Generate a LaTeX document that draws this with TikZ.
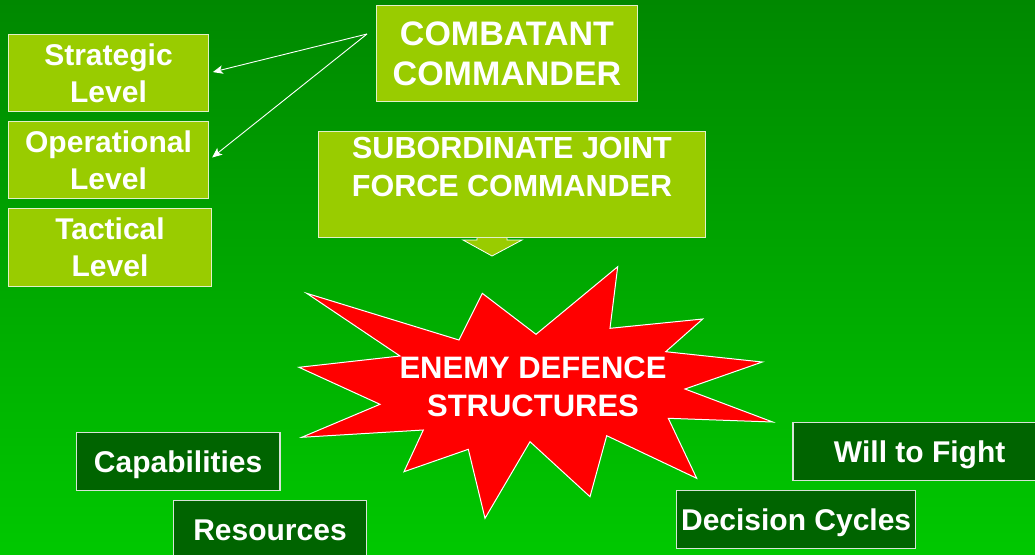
\documentclass[tikz,border=0pt]{standalone}
\usepackage{fontspec}
\setmainfont{Liberation Sans}
\usetikzlibrary{arrows.meta}
\definecolor{bgtop}{RGB}{0,136,0}
\definecolor{bgbottom}{RGB}{0,200,0}
\definecolor{lime}{RGB}{153,204,0}
\definecolor{forest}{RGB}{0,100,0}
\definecolor{edgegrey}{RGB}{215,228,215}
\definecolor{limeedge}{RGB}{225,240,200}
\begin{document}
\begin{tikzpicture}[x=1pt,y=-1pt,
  lightbox/.style={draw=limeedge, line width=1pt, fill=lime, text=white,
    align=center, inner sep=0pt, anchor=north west},
  levelbox/.style={lightbox, minimum width=200pt, minimum height=77pt,
    font=\fontsize{30}{37}\selectfont\bfseries},
  darkbox/.style={draw=edgegrey, line width=1.3pt, fill=forest, text=white,
    inner sep=0pt, anchor=north west, minimum height=58pt,
    text height=22pt, text depth=0pt, font=\fontsize{30}{36}\selectfont\bfseries},
  pointer/.style={draw=white, line width=0.9pt,
    -{Stealth[length=10pt,width=8.5pt,inset=2.5pt]}, shorten >=4pt}
]
\useasboundingbox (0,0) rectangle (1035,554);
\clip (0,0) rectangle (1035,554);

% background
\shade[top color=bgtop, bottom color=bgbottom] (0,0) rectangle (1035,554);

% command levels
\node[levelbox] (strat) at (8,34) {Strategic\\Level};
\node[levelbox] (oper) at (8,121) {Operational\\Level};
\node[levelbox, minimum width=203pt, minimum height=78pt] (tact) at (8,208) {Tactical\\Level};

% commanders
\node[lightbox, minimum width=261pt, minimum height=96pt,
  font=\fontsize{34}{40}\selectfont\bfseries] (cc) at (376,5) {COMBATANT\\COMMANDER};

% block arrow from the subordinate commander towards the enemy structures
\filldraw[fill=lime, draw=white, line width=0.8pt]
  (477,230) -- (477,240) -- (463,240) -- (492,256) -- (522,240) -- (507,240) -- (507,230) -- cycle;

\node[lightbox, minimum width=387pt, minimum height=106pt,
  font=\fontsize{30.5}{38}\selectfont\bfseries,
  text height=60pt, text depth=36pt] (sub) at (318,131) {SUBORDINATE JOINT\\FORCE COMMANDER};

% arrows from the combatant commander
\coordinate (src) at (367,34);
\draw[pointer] (src) -- (strat.east);
\draw[pointer] (src) -- (oper.east);

% starburst
\filldraw[fill=red, draw=white, line width=1pt]
  (306.7,293.3) -- (459,340) -- (482.3,293.3) -- (536,334.3) -- (617.7,266.7)
  -- (610,328.3) -- (702.7,319) -- (665.7,351.7) -- (762.3,362) -- (685,389)
  -- (772.7,422) -- (668.3,418.3) -- (696.7,478.3) -- (606.7,435.7)
  -- (590,496.7) -- (530,441.7) -- (485,518.3) -- (468.3,449.3)
  -- (404,471.7) -- (423.3,430) -- (301.7,437.3) -- (380,404.3)
  -- (299,367.3) -- (400,356) -- cycle;
\node[text=white, align=center, font=\fontsize{31}{38}\selectfont\bfseries]
  (enemy) at (533,387) {ENEMY DEFENCE\\STRUCTURES};

% target attributes
\node[darkbox, minimum width=203.6pt] (cap) at (75.7,431.7) {Capabilities};
\node[darkbox, minimum width=193.3pt] (res) at (172.7,500) {Resources};
\node[darkbox, minimum width=253.4pt] (will) at (792.3,421.7) {Will to Fight};
\node[darkbox, minimum width=239pt, minimum height=57.7pt] (dec) at (676,490) {Decision Cycles};
\end{tikzpicture}
\end{document}
